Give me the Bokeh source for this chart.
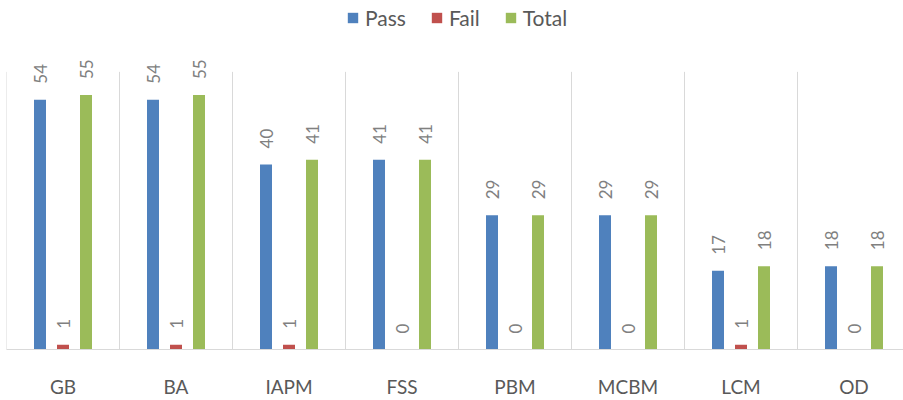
from bokeh.plotting import figure
from bokeh.models import Range1d, FixedTicker, ColumnDataSource, Legend, LegendItem
from bokeh.core.properties import value
from bokeh.embed import file_html
from bokeh.resources import INLINE
import math

categories = ["GB", "BA", "IAPM", "FSS", "PBM", "MCBM", "LCM", "OD"]
pass_vals = [54, 54, 40, 41, 29, 29, 17, 18]
fail_vals = [1, 1, 1, 0, 0, 0, 1, 0]
total_vals = [55, 55, 41, 41, 29, 29, 18, 18]
series_names = ["Pass", "Fail", "Total"]
series_colors = ["#4f81bd", "#c0504d", "#9bbb59"]

W = 903
H = 400
left_pad = 6
cat_px = 113.0
frame_h = 352
px_per_unit = 4.667

p = figure(width=W, height=H, output_backend="svg", toolbar_location=None,
           x_range=Range1d(-0.5, -0.5 + (W - left_pad) / cat_px),
           y_range=Range1d(0, frame_h / px_per_unit),
           min_border_left=left_pad, min_border_right=0, min_border_top=0,
           min_border_bottom=H - frame_h)
p.outline_line_color = None
p.xgrid.visible = False
p.ygrid.visible = False
p.yaxis.visible = False
p.background_fill_color = "white"
p.border_fill_color = "white"

# category separators
n = len(categories)
seps = [k - 0.5 for k in range(n + 1)]
p.segment(x0=seps, y0=[0] * len(seps), x1=seps, y1=[60] * len(seps),
          line_color="#d9d9d9", line_width=1)

offsets = [-23 / cat_px, 0.0, 23 / cat_px]
bw = 12 / cat_px
renderers = []
for name, vals, col, off in zip(series_names, [pass_vals, fail_vals, total_vals], series_colors, offsets):
    xs = [i + off for i in range(n)]
    src = ColumnDataSource(dict(x=xs, top=vals, lab=[str(v) for v in vals]))
    r = p.vbar(x="x", top="top", width=bw, bottom=0, source=src, fill_color=col, line_color=None)
    renderers.append(r)
    p.text(x="x", y="top", text="lab", source=src, angle=math.pi / 2,
           text_align="left", text_baseline="middle", x_offset=0, y_offset=-16,
           text_font=value("Lato"), text_font_size="17px", text_color="#808080")

xa = p.xaxis[0]
xa.ticker = FixedTicker(ticks=list(range(n)))
xa.major_label_overrides = {i: c for i, c in enumerate(categories)}
xa.axis_line_color = "#d9d9d9"
xa.axis_line_width = 1
xa.major_tick_line_color = None
xa.minor_tick_line_color = None
xa.major_tick_out = 0
xa.major_tick_in = 0
xa.major_label_standoff = 25
xa.major_label_text_font = "Lato"
xa.major_label_text_font_size = "19px"
xa.major_label_text_color = "#595959"

legend = Legend(items=[LegendItem(label=nm, renderers=[r]) for nm, r in zip(series_names, renderers)],
                orientation="horizontal", location=(340, frame_h - 33),
                glyph_width=13, glyph_height=13, label_standoff=6, spacing=24,
                margin=0, padding=2, label_text_font="Lato", label_text_font_size="21px",
                label_text_color="#595959", border_line_color=None, background_fill_alpha=0)
p.add_layout(legend, "center")

open("out.html", "w").write(file_html(p, INLINE))
